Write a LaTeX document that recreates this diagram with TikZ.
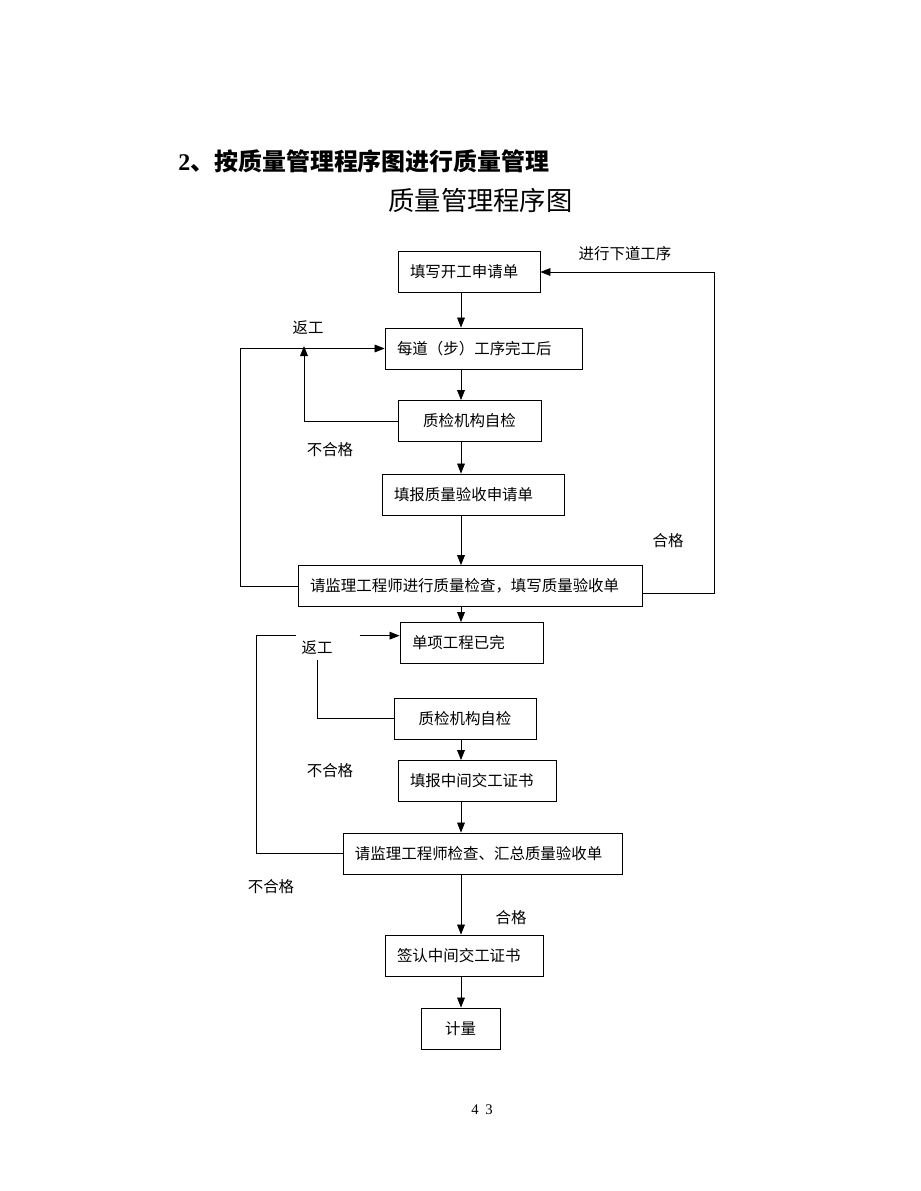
\documentclass[tikz,border=0pt]{standalone}
\usepackage{fontspec}
\usetikzlibrary{calc}
\usetikzlibrary{positioning}
\usetikzlibrary{arrows.meta}
\setmainfont{Liberation Serif}
\newfontfamily\cjk{Noto Sans CJK SC}
\definecolor{line-black}{RGB}{0, 0, 0}

\begin{document}
\begin{tikzpicture}[x=0.647pt, y=-0.647pt,
    box/.style={draw=line-black, line width=0.55pt, font=\cjk\fontsize{10}{12}\selectfont,
        inner xsep=7.76pt, minimum height=26.5pt, align=left},
    lbl/.style={font=\cjk\fontsize{10}{12}\selectfont},
    arr/.style={draw=line-black, line width=0.55pt, -{Triangle[length=6.5pt, width=5pt]}},
    conn/.style={draw=line-black, line width=0.55pt}]
\useasboundingbox (0,0) rectangle (920,1191);

% headings
\node[anchor=west, inner sep=0pt, font=\fontsize{15.5}{18}\selectfont\bfseries] (sect) at (178,161) {2{\cjk 、按质量管理程序图进行质量管理}};
\node[inner sep=0pt, font=\cjk\fontsize{17}{20}\selectfont] (head) at (480.5,200) {质量管理程序图};

% boxes, upper part
\node[box, text width=76.3pt] (apply) at (469,272) {填写开工申请单};
\node[box, text width=111.9pt] (each) at (483.5,348.5) {每道（步）工序完工后};
\node[box, text width=77pt, align=center] (selfchk) at (469.5,421) {质检机构自检};
\node[box, text width=102.2pt] (report) at (473,494.5) {填报质量验收申请单};
\node[box, text width=207pt] (supchk) at (470,586) {请监理工程师进行质量检查，填写质量验收单};

% boxes, lower part
\node[box, text width=77pt] (single) at (471.5,643) {单项工程已完};
\node[box, text width=76.3pt, align=center] (selfchkb) at (465,718.5) {质检机构自检};
\node[box, text width=86.7pt] (interim) at (477,781) {填报中间交工证书};
\node[box, text width=165pt] (supsum) at (482.5,853.5) {请监理工程师检查、汇总质量验收单};
\node[box, text width=86.7pt] (sign) at (464,955.5) {签认中间交工证书};
\node[box, text width=35.6pt, align=center] (measure) at (460.5,1028.5) {计量};

% labels
\node[lbl] (nextlbl) at (625,254) {进行下道工序};
\node[lbl] (rwa) at (308,328) {返工};
\node[lbl] (nga) at (330,450) {不合格};
\node[lbl] (oka) at (668,541) {合格};
\node[lbl] (rwb) at (317,648) {返工};
\node[lbl] (ngb) at (330,771) {不合格};
\node[lbl] (ngc) at (271,887) {不合格};
\node[lbl] (okb) at (511,918) {合格};

\node[font=\fontsize{9.5}{11}\selectfont] (pageno) at (482,1110) {4\hspace{0.45em}3};

% main line
\coordinate (spine) at (461,0);
\draw[arr] (apply.south -| spine) -- (each.north -| spine);
\draw[arr] (each.south -| spine) -- (selfchk.north -| spine);
\draw[arr] (selfchk.south -| spine) -- (report.north -| spine);
\draw[arr] (report.south -| spine) -- (supchk.north -| spine);
\draw[arr] (supchk.south -| spine) -- (single.north -| spine);
\draw[arr] (selfchkb.south -| spine) -- (interim.north -| spine);
\draw[arr] (interim.south -| spine) -- (supsum.north -| spine);
\draw[arr] (supsum.south -| spine) -- (sign.north -| spine);
\draw[arr] (sign.south -| spine) -- (measure.north -| spine);

% loops, upper part
\coordinate (rwtip) at (304,346);
\draw[arr] (selfchk.west) -| (rwtip);
\draw[arr] (supchk.west) -- ++(-57,0) |- (each.west);
\draw[arr] ($(supchk.east)+(0,7)$) -- ++(72,0) |- (apply.east);

% loops, lower part
\draw[conn] (selfchkb.west) -| (rwb.south);
\draw[conn] (supsum.west) -- ++(-86,0) |- (rwb.north west);
\draw[arr] ([xshift=14pt]rwb.north east) -- (rwb.north east -| single.west);

\end{tikzpicture}
\end{document}
